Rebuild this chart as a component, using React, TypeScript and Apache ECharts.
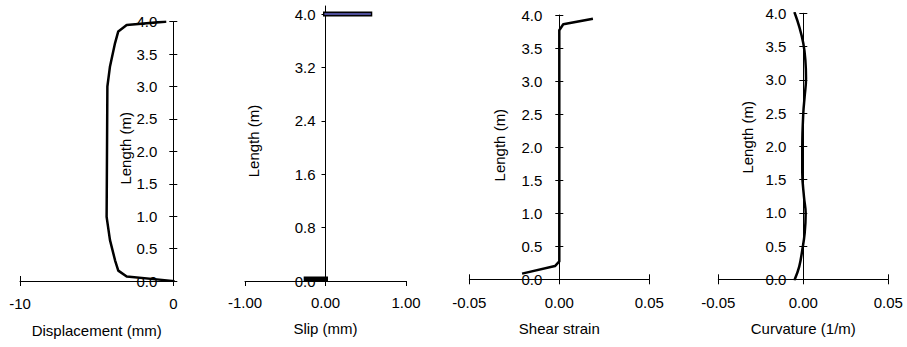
import React, { useEffect, useRef } from 'react';
import * as echarts from 'echarts';

// ---- Data ----
// Panel 1: Displacement (mm) vs Length (m)
const dispX = [-0.54, -3.04, -3.59, -3.8, -4.13, -4.3, -4.35, -4.13, -3.8, -3.59, -3.04, 0];
const dispY = [4.0, 3.95, 3.85, 3.67, 3.31, 3.0, 0.99, 0.63, 0.32, 0.16, 0.07, 0.0];

// Panel 2: Slip (mm)
const slipTopX = [0, 0.55];
const slipTopY = [4.0, 4.0];
const slipBotX = [-0.24, 0];
const slipBotY = [0.03, 0.03];

// Panel 3: Shear strain
const shearX = [0.018, 0.0022, 0, 0, -0.0024, -0.02];
const shearY = [3.94, 3.86, 3.77, 0.27, 0.2, 0.09];

// Panel 4: Curvature (1/m)
const curvX = [-0.005, -0.0024, 0, 0.0012, 0.0016, 0.0008, 0, -0.0006, -0.0006, 0.0004, 0.0014, 0.0008, -0.0006, -0.0024, -0.005];
const curvY = [4.0, 3.8, 3.55, 3.3, 3.02, 2.75, 2.5, 2.0, 1.6, 1.24, 0.99, 0.69, 0.44, 0.19, 0.0];

// Tick values
const lengthTicks = [0, 0.5, 1.0, 1.5, 2.0, 2.5, 3.0, 3.5, 4.0];
const slipLengthTicks = [0, 0.8, 1.6, 2.4, 3.2, 4.0];
const dispTicks = [-10, 0];
const slipTicks = [-1, 0, 1];
const strainTicks = [-0.05, 0, 0.05];
const curvTicks = [-0.05, 0, 0.05];

const FONT = "'Liberation Sans', Arial, sans-serif";
const FS = 15;

function zip(xs: number[], ys: number[]) {
  return xs.map((x, i) => [x, ys[i]]);
}

const textStyle = { color: '#000', fontFamily: FONT, fontSize: FS };

function yAxes(
  gridIndex: number, max: number, ticks: number[], dec: number,
  offset: number, cross: boolean, margin: number, nameGap: number, namePad: number
) {
  const base: any = {
    type: 'value', gridIndex, min: 0, max, position: 'left', offset,
    splitLine: { show: false },
  };
  const primary = {
    ...base,
    axisLine: { show: true, onZero: false, lineStyle: { color: '#000', width: 1 } },
    axisTick: { show: true, inside: false, length: 4, customValues: ticks, lineStyle: { color: '#000', width: 1 } },
    axisLabel: { customValues: ticks, formatter: (v: number) => v.toFixed(dec), margin, ...textStyle },
    name: 'Length (m)', nameLocation: 'middle', nameGap,
    nameTextStyle: { ...textStyle, padding: [0, 0, 0, namePad] },
  };
  const out: any[] = [primary];
  if (cross) {
    out.push({
      ...base,
      axisLine: { show: false, onZero: false },
      axisTick: { show: true, inside: true, length: 4, customValues: ticks, lineStyle: { color: '#000', width: 1 } },
      axisLabel: { show: false },
    });
  }
  return out;
}

function xAxes(
  gridIndex: number, min: number, max: number, ticks: number[], dec: number,
  cross: boolean, margin: number, name: string, nameGap: number
) {
  const base: any = { type: 'value', gridIndex, min, max, position: 'bottom', splitLine: { show: false } };
  const primary = {
    ...base,
    axisLine: { show: true, onZero: false, lineStyle: { color: '#000', width: 1 } },
    axisTick: { show: true, inside: false, length: 5, customValues: ticks, lineStyle: { color: '#000', width: 1 } },
    axisLabel: { customValues: ticks, formatter: (v: number) => v.toFixed(dec), margin, ...textStyle },
    name, nameLocation: 'middle', nameGap, nameTextStyle: { ...textStyle },
  };
  const out: any[] = [primary];
  if (cross) {
    out.push({
      ...base,
      axisLine: { show: false, onZero: false },
      axisTick: { show: true, inside: true, length: 5, customValues: ticks, lineStyle: { color: '#000', width: 1 } },
      axisLabel: { show: false },
    });
  }
  return out;
}

export default function App() {
  const ref = useRef<HTMLDivElement>(null);
  useEffect(() => {
    if (!ref.current) return;
    const chart = echarts.init(ref.current, null, { renderer: 'svg' });

    const grids = [
      { left: 20, top: 21.7, width: 153.3, height: 259.3 },
      { left: 245, top: 6, width: 161, height: 275 },
      { left: 469.3, top: 15, width: 180, height: 264.3 },
      { left: 718.3, top: 13.3, width: 170, height: 266 },
    ];

    const xs: any[] = [];
    const ys: any[] = [];
    const xIdx: number[] = [];
    const yIdx: number[] = [];
    const addX = (arr: any[]) => { xIdx.push(xs.length); xs.push(...arr); };
    const addY = (arr: any[]) => { yIdx.push(ys.length); ys.push(...arr); };

    addX(xAxes(0, -10, 0, dispTicks, 0, true, 15, 'Displacement (mm)', 42));
    addY(yAxes(0, 4, lengthTicks, 1, -153.3, true, 16, 39, 6));

    addX(xAxes(1, -1, 1, slipTicks, 2, false, 14, 'Slip (mm)', 40));
    addY(yAxes(1, 4.12, slipLengthTicks, 1, -80.5, false, 10, 65, 5));

    addX(xAxes(2, -0.05, 0.05, strainTicks, 2, true, 16, 'Shear strain', 42));
    addY(yAxes(2, 4, lengthTicks, 1, -90, true, 17, 52, 4));

    addX(xAxes(3, -0.05, 0.05, curvTicks, 2, true, 16, 'Curvature (1/m)', 42));
    addY(yAxes(3, 4, lengthTicks, 1, -85, true, 17, 48, 18));

    const lineSeries = (i: number, data: number[][], color: string, width: number, smooth: any = false, z = 2) => ({
      type: 'line', xAxisIndex: xIdx[i], yAxisIndex: yIdx[i], data, showSymbol: false, symbol: 'none',
      smooth, z, lineStyle: { color, width, cap: 'square', join: 'round' }, silent: true,
    });

    chart.setOption({
      animation: false,
      backgroundColor: '#fff',
      grid: grids,
      xAxis: xs,
      yAxis: ys,
      series: [
        lineSeries(0, zip(dispX, dispY), '#000', 2.5),
        lineSeries(1, zip(slipTopX, slipTopY), '#000', 5, false, 3),
        lineSeries(1, zip(slipTopX, slipTopY), '#4d4d99', 2.2, false, 4),
        lineSeries(1, zip(slipBotX, slipBotY), '#000', 5, false, 3),
        lineSeries(2, zip(shearX, shearY), '#000', 2.5),
        lineSeries(3, zip(curvX, curvY), '#000', 2.5, 0.4),
      ],
    });
    return () => chart.dispose();
  }, []);
  return <div ref={ref} style={{ position: 'absolute', left: 0, top: 0, width: 907, height: 347 }} />;
}
